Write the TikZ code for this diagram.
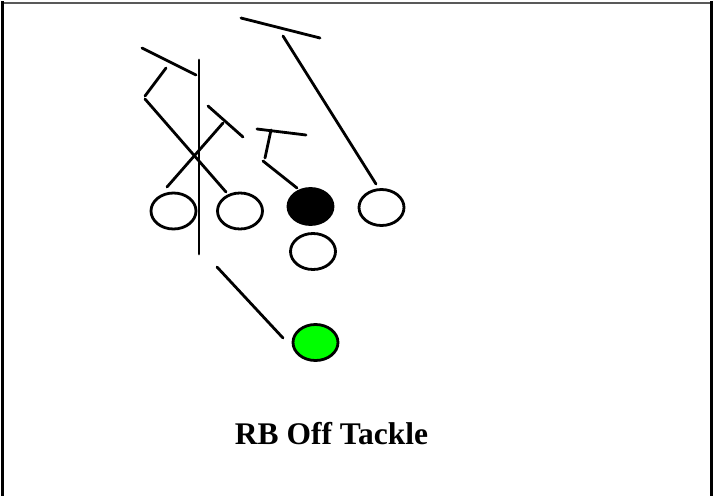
\documentclass[tikz,border=0pt]{standalone}
\usepackage{fontspec}
\setmainfont{Liberation Serif}
\usetikzlibrary{shapes.geometric}

\tikzset{
  player/.style={ellipse, draw=black, line width=2.8pt, fill=white,
    minimum width=45pt, minimum height=36pt, inner sep=0pt},
  route/.style={line width=2.8pt, line cap=round},
}

\begin{document}
\begin{tikzpicture}[x=1pt, y=-1pt]
    \useasboundingbox (0,0) rectangle (713,496);

    % Frame
    \draw[line width=2pt, gray!70!black] (1,3) -- (712,3);
    \draw[line width=3pt] (2,1) -- (2,496);
    \draw[line width=3pt] (711,1) -- (711,496);

    % Players
    \node[player] (lt) at (173.5,211) {};
    \node[player] (lg) at (240,211) {};
    \node[player, fill=black] (c) at (310.5,206.5) {};
    \node[player] (rg) at (381.5,207.5) {};
    \node[player] (qb) at (313,251.5) {};
    \node[player, fill=green] (rb) at (315.5,342.5) {};

    % Routes
    \draw[route] (241,18) -- (320,38);
    \draw[route] (283,36) -- (376,184);
    \draw[route] (142,48) -- (196,75);
    \draw[route] (199,60) -- (199,254);
    \draw[route] (166,68) -- (145,96);
    \draw[route] (145,99) -- (226,192);
    \draw[route] (208,106) -- (243,137);
    \draw[route] (223,123) -- (167,187);
    \draw[route] (257,129) -- (306,135);
    \draw[route] (271,130) -- (265,158);
    \draw[route] (263,161) -- (297,188);
    \draw[route] (217,267) -- (283,338);

    % Play name
    \node[font=\bfseries\fontsize{31.5}{36}\selectfont] (name) at (331.5,434) {RB Off Tackle};
\end{tikzpicture}
\end{document}
